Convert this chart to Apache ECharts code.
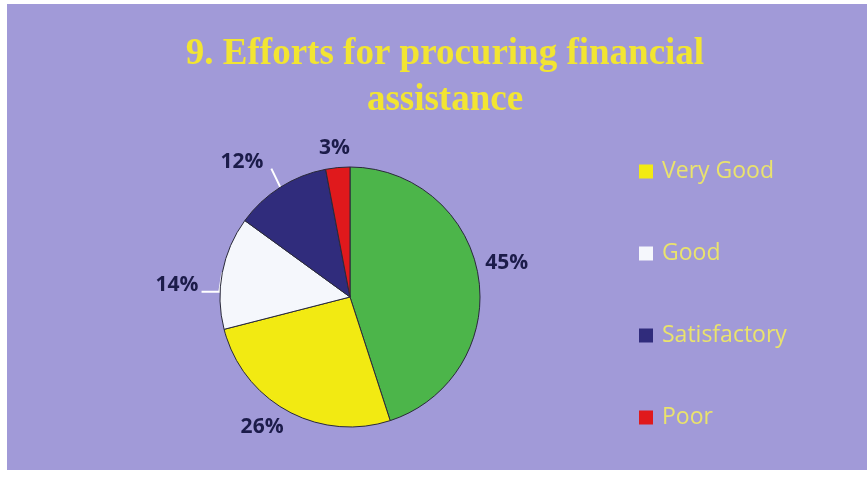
<!DOCTYPE html>
<html><head><meta charset="utf-8">
<script src="https://cdn.jsdelivr.net/npm/echarts@6/dist/echarts.min.js"></script>
<style>html,body{margin:0;padding:0;background:#fff}#c{position:absolute;left:7px;top:4px;width:860px;height:466px}</style>
</head><body><div id="c"></div>
<script>
const categories = ['Excellent', 'Very Good', 'Good', 'Satisfactory', 'Poor'];
const values = [45, 26, 14, 12, 3];
const legendNames = ['Very Good', 'Good', 'Satisfactory', 'Poor'];
const colors = ['#4cb54a', '#f2ea12', '#f5f7fc', '#302c7c', '#e0191c'];
const labelLens = [[8, 4], [10, 4], [10, 10], [20, 8], [8, 4]];
const showLine = [false, false, true, true, false];
const labelShift = [[-10, -12], [10, 7], [-4, 14], [6, -21], [22, -12]];

const chart = echarts.init(document.getElementById('c'));
chart.setOption({
  backgroundColor: '#a19ad8',
  animation: false,
  title: {
    text: '9. Efforts for procuring financial\nassistance',
    left: 433, top: 22, textAlign: 'center',
    textStyle: { fontFamily: 'Liberation Serif', fontWeight: 'bold', fontSize: 37, color: '#f2e532', lineHeight: 46 }
  },
  legend: {
    data: legendNames, orient: 'vertical', left: 627, top: 151, itemGap: 59,
    icon: 'rect', itemWidth: 14, itemHeight: 14,
    itemStyle: { borderWidth: 0 },
    textStyle: { fontFamily: 'Open Sans', fontSize: 23, color: '#eae36c', padding: [0, 0, 0, 4] }
  },
  series: [{
    type: 'pie', center: [343, 293], radius: 130, startAngle: 90, clockwise: true,
    itemStyle: { borderColor: '#2a2a3a', borderWidth: 1 },
    label: { show: true, position: 'outside', formatter: '{c}%', fontFamily: 'Open Sans', fontWeight: 'bold', fontSize: 21, color: '#1c1c4a' },
    labelLayout: function (p) {
      const i = p.dataIndex;
      const s = labelShift[i];
      const out = { dx: s[0], dy: s[1] };
      const pts = p.labelLinePoints;
      if (showLine[i] && pts) {
        const r = p.labelRect;
        const right = r.x + s[0] + r.width;
        const ly = r.y + s[1] + r.height / 2 + 7;
        const p0 = pts[0];
        if (i === 2) {
          out.labelLinePoints = [p0, [p0[0] - 3, ly], [right + 3, ly]];
        } else {
          out.labelLinePoints = [p0, [(p0[0] + right + 8) / 2, (p0[1] + ly) / 2], [right + 8, ly]];
        }
      }
      return out;
    },
    data: categories.map((n, i) => ({
      name: n, value: values[i],
      itemStyle: { color: colors[i] },
      labelLine: { show: showLine[i], length: labelLens[i][0], length2: labelLens[i][1], lineStyle: { color: '#ffffff', width: 2 } }
    }))
  }]
});
</script></body></html>
